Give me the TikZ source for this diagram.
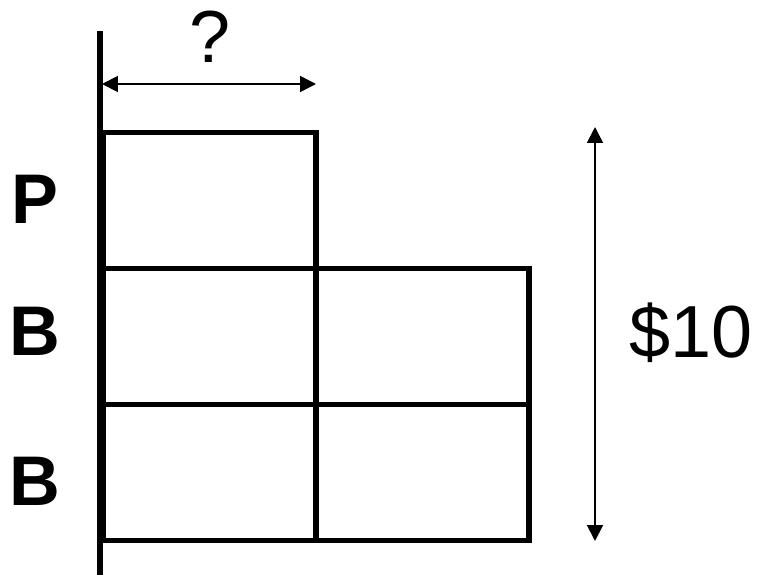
\documentclass[tikz,border=0pt]{standalone}
\usepackage{fontspec}
\setmainfont{Liberation Sans}
\usetikzlibrary{arrows.meta, positioning}
\tikzset{
  cell/.style = {rectangle, draw=black, line width=3pt, minimum width=4.26cm, minimum height=2.72cm, inner sep=0pt, outer sep=0pt},
  rowlabel/.style = {font=\fontsize{40}{46}\selectfont\bfseries},
  biglabel/.style = {font=\fontsize{42}{48}\selectfont},
  arrow2/.style = {line width=1.1pt, {Triangle[length=9pt,width=9pt]}-{Triangle[length=9pt,width=9pt]}}
}
\begin{document}
\begin{tikzpicture}[x=0.02cm, y=-0.02cm]
  \useasboundingbox (0,0) rectangle (761,575);
  % Cells
  \node (p1) [cell] at (209.5,200.5) {};
  \node (b1) [cell, below=0pt of p1] {};
  \node (b2) [cell, right=0pt of b1] {};
  \node (c1) [cell, below=0pt of b1] {};
  \node (c2) [cell, right=0pt of c1] {};

  % Axis
  \coordinate (axtop) at (100,31);
  \coordinate (axbot) at (100,575);
  \draw [line width=3.8pt] (axtop) -- (axbot);

  % Row labels
  \node (lp) [rowlabel] at (35,199) {P};
  \node (lb1) [rowlabel] at (35,331) {B};
  \node (lb2) [rowlabel] at (35,481) {B};

  % Width arrow
  \coordinate (wl) at (102,84);
  \coordinate (wr) at (316,84);
  \draw [arrow2] (wl) -- (wr);
  \node (q) [biglabel] at (210,37) {?};

  % Height arrow
  \coordinate (ht) at (595,127);
  \coordinate (hb) at (595,541);
  \draw [arrow2] (ht) -- (hb);
  \node (amt) [biglabel] at (691,333) {\$10};
\end{tikzpicture}
\end{document}
